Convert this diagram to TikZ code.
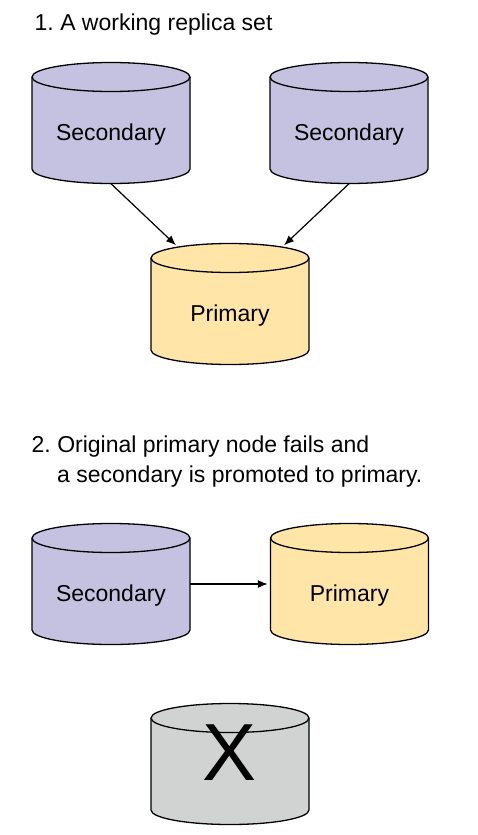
\documentclass[tikz,border=0pt]{standalone}
\usepackage{fontspec}
\setmainfont{Liberation Sans}
\usetikzlibrary{arrows.meta,calc}
\definecolor{secfill}{RGB}{197,193,224}
\definecolor{primfill}{RGB}{255,229,168}
\definecolor{deadfill}{RGB}{209,211,211}
\frenchspacing
\tikzset{
  cylline/.style={draw=black, line width=1.3pt, line join=round},
  cylbox/.style={minimum width=158pt, minimum height=121pt, inner sep=0pt},
  cyllabel/.style={font=\fontsize{23}{27}\selectfont, inner sep=0pt, anchor=base},
  titletext/.style={font=\fontsize{23}{27}\selectfont, inner sep=0pt, anchor=base west},
  conn/.style={line width=1.2pt, -{Latex[length=10pt,width=8pt]}}
}
% #1 centre x, #2 top-ellipse centre y (downwards), #3 fill, #4 name, #5 label
\newcommand\dbcyl[5]{%
  \path[cylline, fill=#3] (#1-79,-#2) -- (#1-79,-#2-92)
     arc[start angle=180, end angle=360, x radius=79pt, y radius=14.5pt]
     -- (#1+79,-#2)
     arc[start angle=0, end angle=180, x radius=79pt, y radius=14.5pt] -- cycle;
  \draw[cylline] (#1-79,-#2) arc[start angle=180, end angle=360, x radius=79pt, y radius=14.5pt];
  \node[cylbox] (#4) at (#1,-#2-46) {};
  \node[cyllabel] (#4l) at (#1,-#2-63.5) {#5};
}
\begin{document}
\begin{tikzpicture}[x=1pt,y=1pt]
\useasboundingbox (0,0) rectangle (478,-835);

\node[titletext] (t1) at (34.5,-30) {1. A working replica set};

\dbcyl{111}{77}{secfill}{sa}{Secondary}
\dbcyl{349}{77}{secfill}{sb}{Secondary}
\dbcyl{230}{258}{primfill}{pa}{Primary}

\draw[conn] (sa.south) -- ($(pa.north)+(-54,-2)$);
\draw[conn] (sb.south) -- ($(pa.north)+(54,-2)$);

\node[titletext] (t2) at (31.5,-452.3) {2. Original primary node fails and};
\node[titletext] (t3) at (57,-482.7) {a secondary is promoted to primary.};

\dbcyl{111}{538}{secfill}{sc}{Secondary}
\dbcyl{349.5}{538}{primfill}{pb}{Primary}

\draw[conn, shorten >=2.5pt] (sc.east) -- (pb.west);

\dbcyl{230}{718}{deadfill}{xa}{}
\node[font=\fontsize{81}{90}\selectfont, inner sep=0pt, anchor=base] (xl) at (230,-780) {X};
\end{tikzpicture}
\end{document}
